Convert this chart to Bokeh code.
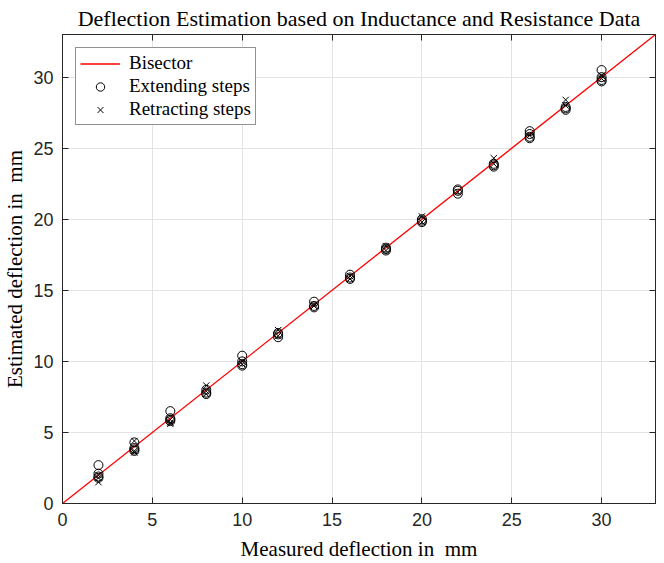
from bokeh.plotting import figure
from bokeh.models import LinearAxis, Range1d, FixedTicker, Legend, LegendItem
from bokeh.embed import file_html
from bokeh.resources import INLINE

# Data
steps = [2, 4, 6, 8, 10, 12, 14, 16, 18, 20, 22, 24, 26, 28, 30]
ext_x = [2, 2, 2, 2, 4, 4, 4, 4, 6, 6, 6, 6, 8, 8, 8, 10, 10, 10, 10,
         12, 12, 12, 14, 14, 14, 16, 16, 16, 18, 18, 18, 20, 20, 20,
         22, 22, 22, 24, 24, 24, 26, 26, 26, 26, 28, 28, 28, 30, 30, 30, 30]
ext_y = [2.7, 2.1, 1.9, 1.8, 4.3, 3.9, 3.8, 3.7, 6.5, 6.0, 5.9, 5.8, 8.0, 7.8, 7.7,
         10.4, 10.0, 9.8, 9.7, 11.7, 12.0, 11.9, 14.2, 13.9, 13.8, 16.1, 15.8, 15.9,
         18.0, 17.8, 17.9, 19.8, 20.0, 19.9, 22.1, 21.8, 22.0, 23.8, 23.9, 23.7,
         26.2, 25.8, 25.7, 26.0, 27.7, 27.9, 27.8, 30.5, 30.0, 29.8, 29.7]
ret_x = [2, 2, 2, 4, 4, 4, 6, 6, 6, 8, 8, 8, 10, 10, 12, 12, 14, 14, 16, 16,
         18, 18, 20, 20, 22, 24, 24, 26, 28, 28, 30, 30]
ret_y = [1.5, 1.8, 2.0, 4.4, 3.6, 3.7, 5.6, 5.7, 5.9, 8.3, 7.7, 7.9, 9.8, 10.0,
         12.2, 11.8, 13.9, 14.0, 16.0, 15.8, 18.1, 17.8, 20.2, 19.8, 21.9,
         24.3, 23.9, 25.9, 28.4, 28.0, 30.1, 29.9]
bis = [0, 33]
ticks = [0, 5, 10, 15, 20, 25, 30]
title_text = "Deflection Estimation based on Inductance and Resistance Data"

serif = "Liberation Serif"
sans = "Liberation Sans"

xr = Range1d(0, 33)
yr = Range1d(0, 33)
p = figure(width=664, height=563, output_backend="svg", toolbar_location=None,
           x_range=xr, y_range=yr,
           min_border_left=61, min_border_right=9, min_border_top=34, min_border_bottom=59)

p.title.text = title_text
p.title.align = "center"
p.title.vertical_align = "top"
p.title.text_font = serif
p.title.text_font_style = "normal"
p.title.text_font_size = "22px"
p.title.text_color = "#000000"
p.title.text_line_height = 0.6
p.title.standoff = 4

p.outline_line_color = "#262626"
p.outline_line_width = 1

for ax in (p.xaxis[0], p.yaxis[0]):
    ax.ticker = FixedTicker(ticks=ticks)
    ax.major_tick_in = 6
    ax.major_tick_out = 0
    ax.minor_tick_in = 0
    ax.minor_tick_out = 0
    ax.axis_line_color = "#262626"
    ax.major_tick_line_color = "#262626"
    ax.major_label_text_font = sans
    ax.major_label_text_font_size = "18px"
    ax.major_label_text_color = "#262626"
    ax.axis_label_text_font = serif
    ax.axis_label_text_font_style = "normal"
    ax.axis_label_text_font_size = "21px"
    ax.axis_label_text_color = "#000000"

p.xaxis[0].major_label_standoff = 9
p.xaxis[0].axis_label_standoff = 8
p.yaxis[0].major_label_standoff = 9
p.yaxis[0].axis_label_standoff = 3

p.xaxis[0].axis_label = "Measured deflection in\u00a0 mm"
p.yaxis[0].axis_label = "Estimated deflection in\u00a0 mm"

for loc in ("above", "right"):
    a = LinearAxis(ticker=FixedTicker(ticks=ticks))
    a.major_tick_in = 6
    a.major_tick_out = 0
    a.minor_tick_in = 0
    a.minor_tick_out = 0
    a.major_label_text_font_size = "1px"
    a.major_label_text_color = None
    a.major_label_standoff = 0
    a.axis_line_color = "#262626"
    a.major_tick_line_color = "#262626"
    p.add_layout(a, loc)

p.xgrid.ticker = FixedTicker(ticks=ticks)
p.ygrid.ticker = FixedTicker(ticks=ticks)
p.grid.grid_line_color = "#e3e3e3"
p.grid.grid_line_width = 1

r_bis = p.line(bis, bis, line_color="#ff0000", line_width=1.3)
r_ext = p.scatter(ext_x, ext_y, marker="circle", size=9, fill_color=None,
                  line_color="#000000", line_width=1)
r_ret = p.scatter(ret_x, ret_y, marker="x", size=9, line_color="#000000", line_width=1)

legend = Legend(items=[
    LegendItem(label="Bisector", renderers=[r_bis]),
    LegendItem(label="Extending steps", renderers=[r_ext]),
    LegendItem(label="Retracting steps", renderers=[r_ret]),
], location="top_left")
legend.label_text_font = serif
legend.label_text_font_size = "19px"
legend.label_text_color = "#000000"
legend.border_line_color = "#262626"
legend.border_line_width = 1
legend.margin = 13
legend.padding = 4
legend.spacing = 1
legend.glyph_width = 40
legend.glyph_height = 21
legend.label_height = 21
legend.label_standoff = 9
p.add_layout(legend)

open("out.html", "w").write(file_html(p, INLINE))
